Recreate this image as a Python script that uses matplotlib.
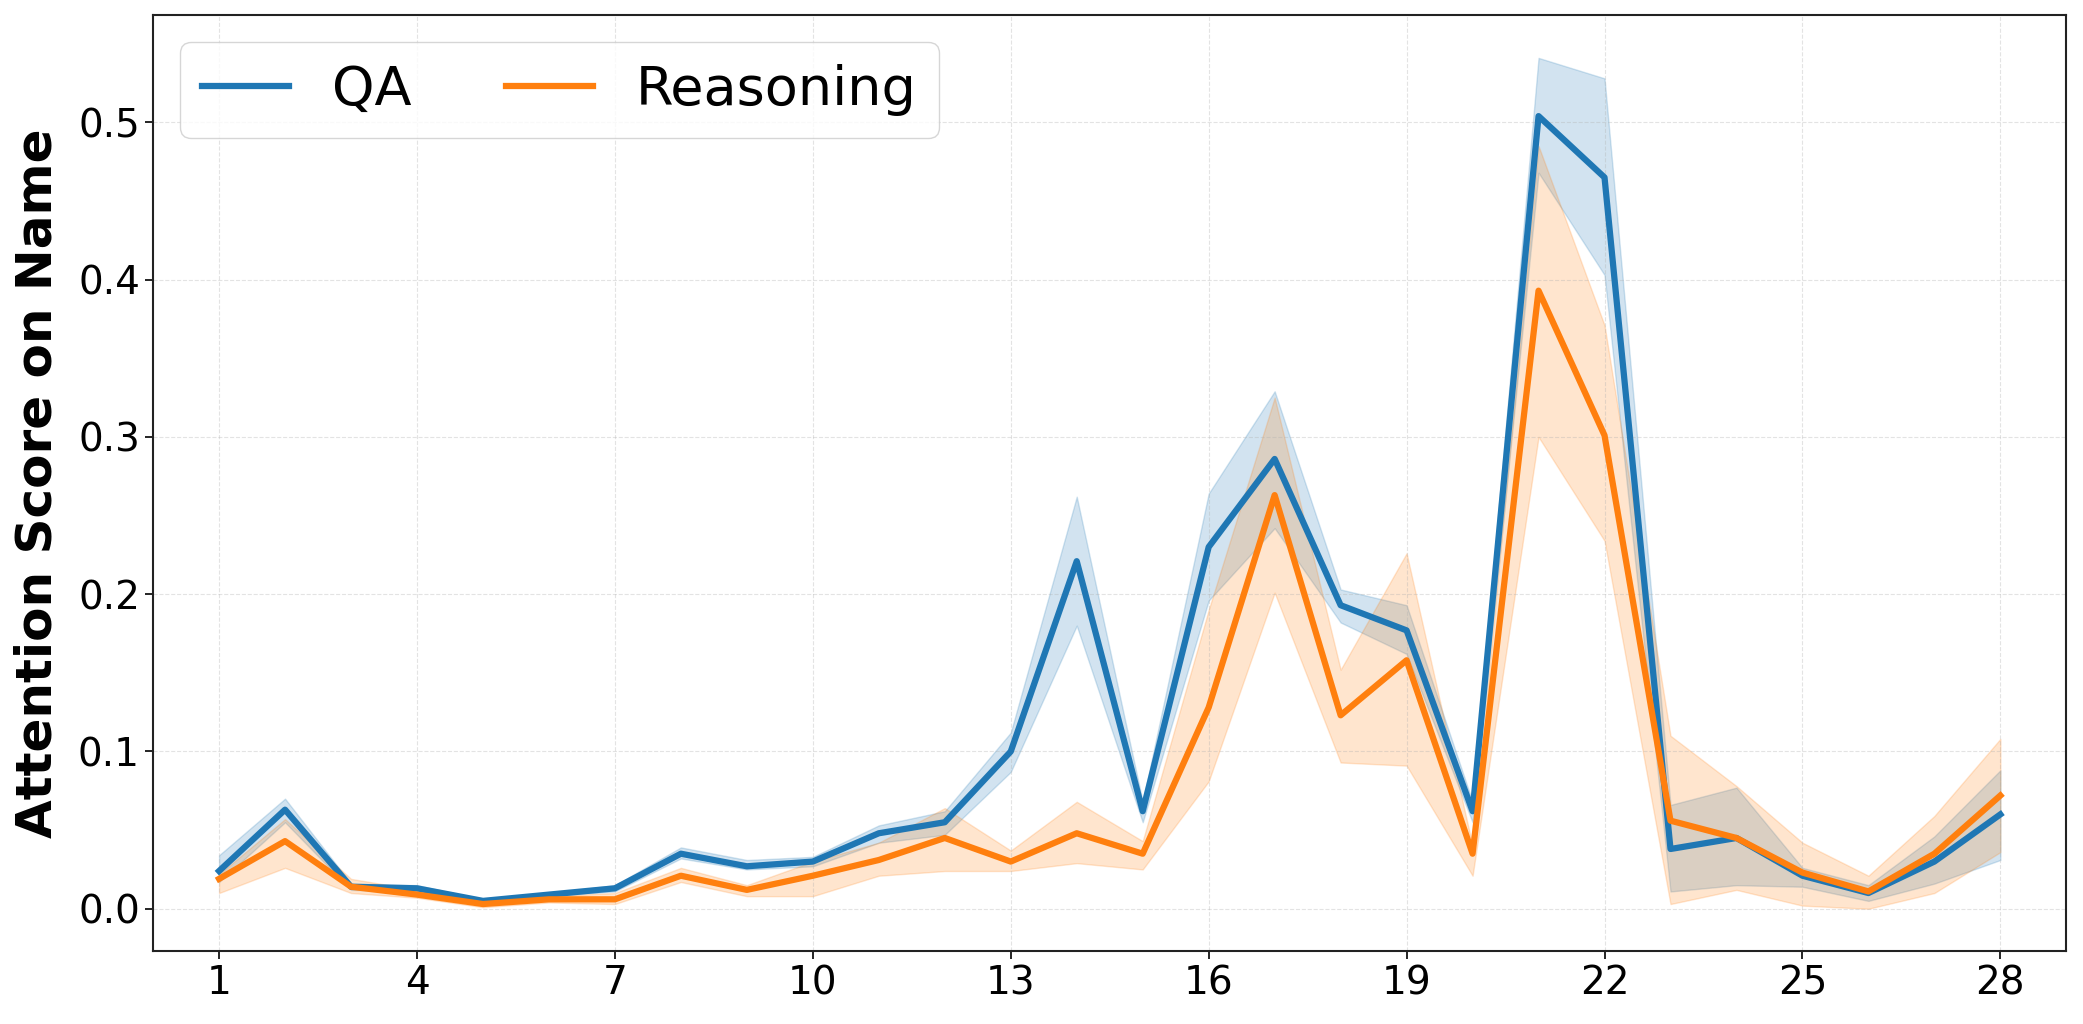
import numpy as np
import matplotlib
matplotlib.use("Agg")
import matplotlib.pyplot as plt

layers = list(range(1, 29))

qa_mean = [0.024, 0.063, 0.014, 0.013, 0.005, 0.009, 0.013, 0.035, 0.027, 0.030,
           0.048, 0.055, 0.100, 0.221, 0.062, 0.230, 0.286, 0.193, 0.177, 0.062,
           0.504, 0.465, 0.038, 0.045, 0.021, 0.010, 0.030, 0.060]
qa_low = [0.017, 0.055, 0.012, 0.011, 0.004, 0.008, 0.011, 0.032, 0.025, 0.027,
          0.042, 0.047, 0.087, 0.180, 0.055, 0.196, 0.242, 0.182, 0.162, 0.055,
          0.468, 0.403, 0.011, 0.015, 0.014, 0.005, 0.016, 0.031]
qa_high = [0.034, 0.070, 0.016, 0.015, 0.006, 0.010, 0.015, 0.039, 0.031, 0.033,
           0.053, 0.062, 0.112, 0.262, 0.068, 0.264, 0.329, 0.203, 0.193, 0.068,
           0.541, 0.528, 0.066, 0.077, 0.026, 0.015, 0.046, 0.088]

rs_mean = [0.019, 0.043, 0.014, 0.009, 0.003, 0.006, 0.006, 0.021, 0.012, 0.021,
           0.031, 0.045, 0.030, 0.048, 0.035, 0.128, 0.263, 0.123, 0.158, 0.035,
           0.393, 0.301, 0.056, 0.045, 0.023, 0.011, 0.035, 0.072]
rs_low = [0.010, 0.026, 0.010, 0.007, 0.001, 0.004, 0.003, 0.017, 0.008, 0.008,
          0.021, 0.024, 0.024, 0.029, 0.025, 0.081, 0.201, 0.093, 0.091, 0.021,
          0.300, 0.234, 0.003, 0.012, 0.002, 0.000, 0.010, 0.036]
rs_high = [0.022, 0.057, 0.019, 0.012, 0.005, 0.008, 0.010, 0.026, 0.015, 0.030,
           0.042, 0.064, 0.037, 0.068, 0.043, 0.190, 0.325, 0.152, 0.226, 0.040,
           0.485, 0.371, 0.110, 0.078, 0.042, 0.021, 0.059, 0.108]

fig, ax = plt.subplots(figsize=(20.83, 10.24), dpi=100)
fig.subplots_adjust(left=0.0735, right=0.992, top=0.985, bottom=0.071)

ax.plot(layers, qa_mean, color="#1f77b4", lw=4.5, label="QA")
ax.fill_between(layers, qa_low, qa_high, color="#1f77b4", alpha=0.2)
ax.plot(layers, rs_mean, color="#ff7f0e", lw=4.5, label="Reasoning")
ax.fill_between(layers, rs_low, rs_high, color="#ff7f0e", alpha=0.2)

ax.set_xlim(0, 29)
ax.set_xticks(range(1, 29, 3))
ax.tick_params(axis="both", labelsize=28, length=6, width=1.2)
ax.set_ylabel("Attention Score on Name", fontsize=36, fontweight="bold", labelpad=12)
ax.grid(True, linestyle="--", alpha=0.35)
for s in ax.spines.values():
    s.set_linewidth(1.5)
    s.set_color("#222222")

ax.legend(loc="upper left", ncol=2, fontsize=39, handlelength=1.6, columnspacing=1.75)

fig.savefig("out.png")
